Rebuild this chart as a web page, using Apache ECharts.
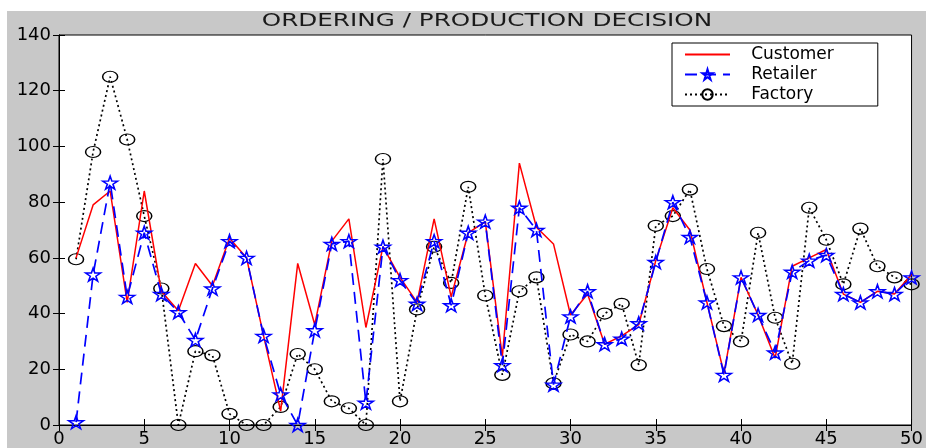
<!DOCTYPE html>
<html>
<head>
<meta charset="utf-8">
<script src="https://cdn.jsdelivr.net/npm/echarts@6/dist/echarts.min.js"></script>
<style>
  html, body { margin: 0; padding: 0; background: #ffffff; }
  #chart { position: absolute; left: 7px; top: 11px; width: 919px; height: 437px; background: #c8c8c8; }
</style>
</head>
<body>
<div id="chart"></div>
<script>
// ordering / production decision per period
const customer = [60, 79, 84, 44, 84, 48, 41, 58, 50, 67,
  60, 32, 5, 58, 36, 66, 74, 35, 64, 53,
  44, 74, 46, 69, 73, 24.5, 94, 71, 65, 39.5,
  47, 29, 32, 36, 59, 78, 70, 44, 18.5, 53,
  39.5, 24, 57, 60, 63, 47, 44, 48, 47, 54];
const retailer = [1, 54, 87, 46, 69, 47, 40.5, 30.5, 49, 66,
  60, 32, 11, 0, 34, 65, 66, 8, 64, 52,
  43.5, 66, 43, 69, 73, 21.5, 78, 70, 14.5, 39,
  48, 29, 31, 36.5, 58.5, 80, 67.5, 44, 18, 53,
  39.5, 26, 55, 59, 61, 47, 44, 48, 47, 53];
const factory = [59.5, 98, 125, 102.5, 75, 49, 0, 26.5, 25, 4,
  0, 0, 6.5, 25.5, 20, 8.5, 6, 0, 95.5, 8.5,
  41.5, 64, 51, 85.5, 46.5, 18, 48, 53, 15, 32.5,
  30, 40, 43.5, 21.5, 71.5, 75, 84.5, 56, 35.5, 30,
  69, 38.5, 22, 78, 66.5, 50.5, 70.5, 57, 53, 50.5];
const periods = customer.map((v, i) => i + 1);

const starPath = 'path://M50,0 L61,35 L98,35 L68,57 L79,91 L50,70 L21,91 L32,57 L2,35 L39,35 Z';
const ringPath = 'path://M0,50 A50,50 0 1,1 100,50 A50,50 0 1,1 0,50 Z';
const font = 'DejaVu Sans';

function pairs(values) {
  return values.map((v, i) => [periods[i], v]);
}

const chart = echarts.init(document.getElementById('chart'));
chart.setOption({
  animation: false,
  graphic: [{
    type: 'text',
    x: 480,
    y: 2,
    scaleX: 1.45,
    style: {
      text: 'ORDERING / PRODUCTION DECISION',
      textAlign: 'center',
      fontFamily: font, fontSize: 17, fill: '#1a1a1a'
    }
  }],
  legend: {
    orient: 'vertical',
    left: 665,
    top: 32,
    itemWidth: 45,
    itemHeight: 13,
    itemGap: 3,
    padding: [3, 44, 3, 12],
    backgroundColor: '#ffffff',
    borderColor: '#000000',
    borderWidth: 1,
    borderRadius: 0,
    formatter: name => '   ' + name,
    textStyle: { fontFamily: font, fontSize: 17, color: '#000' },
    data: [
      { name: 'Customer', itemStyle: { opacity: 0 } },
      { name: 'Retailer' },
      { name: 'Factory' }
    ]
  },
  grid: {
    left: 52, right: 6, top: 24, bottom: 23,
    show: true,
    backgroundColor: '#ffffff',
    borderColor: '#000000',
    borderWidth: 1
  },
  xAxis: [{
    type: 'value', min: 0, max: 50, interval: 5,
    splitLine: { show: false },
    axisLine: { lineStyle: { color: '#000', width: 1 } },
    axisTick: { inside: true, length: 6, lineStyle: { color: '#000' } },
    axisLabel: { fontFamily: font, fontSize: 18, color: '#000', margin: 5 }
  }, {
    type: 'value', min: 0, max: 50, interval: 5, position: 'top',
    splitLine: { show: false },
    axisLine: { lineStyle: { color: '#000' } },
    axisTick: { inside: true, length: 6, lineStyle: { color: '#000' } },
    axisLabel: { show: false }
  }],
  yAxis: [{
    type: 'value', min: 0, max: 140, interval: 20,
    splitLine: { show: false },
    axisLine: { show: true, lineStyle: { color: '#000', width: 1 } },
    axisTick: { show: true, inside: true, length: 6, lineStyle: { color: '#000' } },
    axisLabel: { fontFamily: font, fontSize: 18, color: '#000', margin: 8 }
  }, {
    type: 'value', min: 0, max: 140, interval: 20, position: 'right',
    splitLine: { show: false },
    axisLine: { show: true, lineStyle: { color: '#000' } },
    axisTick: { show: true, inside: true, length: 6, lineStyle: { color: '#000' } },
    axisLabel: { show: false }
  }],
  series: [{
    name: 'Customer',
    type: 'line',
    data: pairs(customer),
    symbol: 'none',
    color: '#ff0000',
    lineStyle: { color: '#ff0000', width: 1.5 },
    z: 3
  }, {
    name: 'Retailer',
    type: 'line',
    data: pairs(retailer),
    symbol: starPath,
    symbolSize: [15, 13],
    color: '#0000ff',
    itemStyle: { color: 'rgba(255,255,255,0)', borderColor: '#0000ff', borderWidth: 1.5 },
    lineStyle: { color: '#0000ff', width: 1.7, type: [12, 7] },
    z: 4
  }, {
    name: 'Factory',
    type: 'line',
    data: pairs(factory),
    symbol: ringPath,
    symbolSize: [15, 11],
    color: '#000000',
    itemStyle: { color: 'rgba(255,255,255,0)', borderColor: '#000000', borderWidth: 1.3 },
    lineStyle: { color: '#000000', width: 1.7, type: [2, 3] },
    z: 2
  }]
});
</script>
</body>
</html>
